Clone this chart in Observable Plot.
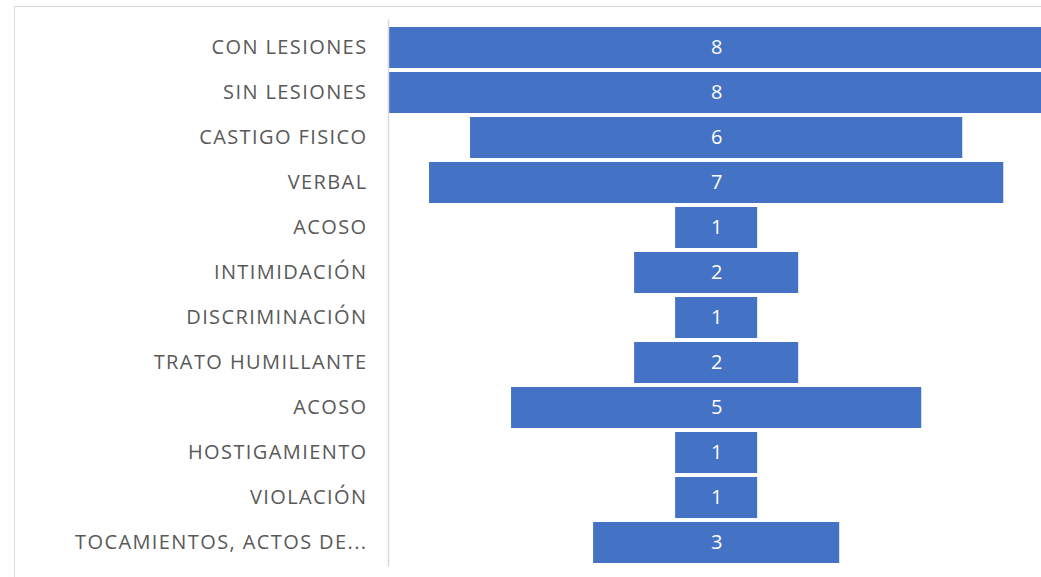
<!DOCTYPE html>
<html>
<head>
<meta charset="utf-8">
<script src="https://cdn.jsdelivr.net/npm/d3@7"></script>
<script src="https://cdn.jsdelivr.net/npm/@observablehq/plot@0.6"></script>
<style>
  html, body { margin: 0; padding: 0; background: #fff; }
  #wrap { position: relative; width: 1041px; height: 577px; overflow: hidden; }
  #frame { position: absolute; left: 14px; top: 6px; width: 1100px; height: 700px;
           border-left: 1px solid #d9d9d9; border-top: 1px solid #d9d9d9; }
  #chart { position: absolute; left: 0; top: 0; }
  #chart g[aria-label="y-axis tick label"] text { letter-spacing: 1.4px; }
</style>
</head>
<body>
<div id="wrap"><div id="frame"></div><div id="chart"></div></div>
<script>
const categories = ["CON LESIONES", "SIN LESIONES", "CASTIGO FISICO", "VERBAL", "ACOSO", "INTIMIDACIÓN",
  "DISCRIMINACIÓN", "TRATO HUMILLANTE", "ACOSO", "HOSTIGAMIENTO", "VIOLACIÓN", "TOCAMIENTOS, ACTOS DE..."];
const values = [8, 8, 6, 7, 1, 2, 1, 2, 5, 1, 1, 3];

const data = categories.map((c, i) => ({i, c, v: values[i]}));

const chart = Plot.plot({
  width: 1041,
  height: 577,
  marginLeft: 388,
  marginRight: 0,
  marginTop: 22.5,
  marginBottom: 10.5,
  style: {fontFamily: "'Open Sans', sans-serif", background: "transparent"},
  x: {domain: [-4, 3.96], axis: null},
  y: {domain: data.map(d => d.i), padding: 0, axis: null},
  marks: [
    Plot.barX(data, {y: "i", x1: d => -d.v / 2, x2: d => d.v / 2, fill: "#4472c4", insetTop: 2, insetBottom: 2}),
    Plot.text(data, {y: "i", x: 0, text: d => String(d.v), fill: "white", fontSize: 20}),
    Plot.axisY({tickFormat: i => categories[i], tickSize: 0, tickPadding: 21, fontSize: 20, fill: "#595959", label: null}),
    Plot.ruleX([-4], {stroke: "#d9d9d9", strokeWidth: 1.5, insetTop: -3})
  ]
});
document.getElementById("chart").appendChild(chart);
</script>
</body>
</html>
